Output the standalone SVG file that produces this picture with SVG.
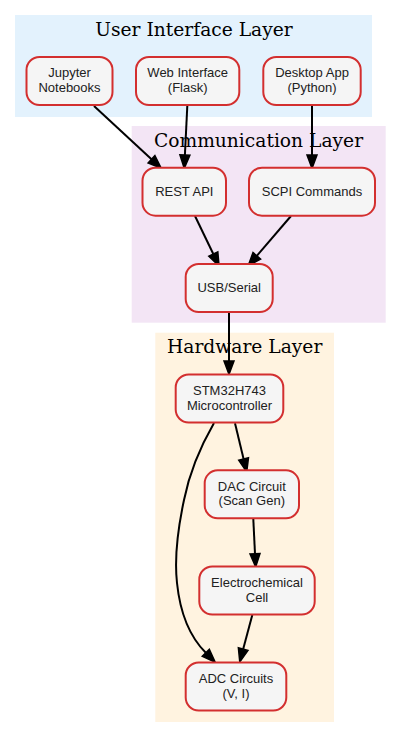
<svg xmlns="http://www.w3.org/2000/svg" width="401" height="737" viewBox="0 0 401 737">
<defs>
<style>
.cl-title{font-family:"DejaVu Serif","Liberation Serif",serif;font-size:18.67px;fill:#000;text-anchor:middle}
.node rect{fill:#f5f5f5;stroke:#d32f2f;stroke-width:2}
.node text{font-family:"Liberation Sans",Arial,sans-serif;font-size:13px;fill:#212121;text-anchor:middle}
.edge{fill:none;stroke:#000;stroke-width:2;marker-end:url(#ah)}
</style>
<marker id="ah" markerUnits="userSpaceOnUse" markerWidth="16" markerHeight="12" refX="0" refY="5" orient="auto" overflow="visible">
<path d="M0,0 L13.3,5 L0,10 z" fill="#000" stroke="#000" stroke-width="1.5" stroke-linejoin="miter"/>
</marker>
</defs>
<rect width="401" height="737" fill="#fff"/>
<g id="clusters">
<g id="cluster_ui">
<rect x="15" y="15" width="357" height="102" fill="#e3f2fd"/>
<text class="cl-title" x="194" y="36">User Interface Layer</text>
</g>
<g id="cluster_comm">
<rect x="131.7" y="126" width="254" height="196.7" fill="#f3e5f5"/>
<text class="cl-title" x="258.5" y="146.7">Communication Layer</text>
</g>
<g id="cluster_hw">
<rect x="155.3" y="332.7" width="178.7" height="389.3" fill="#fff3e0"/>
<text class="cl-title" x="244.7" y="353.3">Hardware Layer</text>
</g>
</g>
<g id="connectors">
<path class="edge" d="M94,106 L151.5,159.2"/>
<path class="edge" d="M187.3,106 L184.9,155"/>
<path class="edge" d="M312,106 L312,155"/>
<path class="edge" d="M195,216 L213.3,254"/>
<path class="edge" d="M291,216 L256.8,255.8"/>
<path class="edge" d="M229,311.7 L229,361"/>
<path class="edge" d="M235,423.3 L243.6,459"/>
<path class="edge" d="M253.3,519 L255,553.7"/>
<path class="edge" d="M252.3,615 L243.2,649.1"/>
<path class="edge" d="M214,423 C199,449 189,475 184,500 C178,528 174,556 177,583 C180,612 190,637 205.8,652.8"/>
</g>
<g id="node_jupyter" class="node">
<rect x="26.5" y="57" width="86" height="48" rx="13"/>
<text x="69.5" y="77.3">Jupyter</text>
<text x="69.5" y="91.8">Notebooks</text>
</g>
<g id="node_web" class="node">
<rect x="136" y="57" width="103.3" height="48" rx="13"/>
<text x="187.7" y="77.3">Web Interface</text>
<text x="187.7" y="91.8">(Flask)</text>
</g>
<g id="node_desktop" class="node">
<rect x="263.3" y="57" width="97.4" height="48" rx="13"/>
<text x="312" y="77.3">Desktop App</text>
<text x="312" y="91.8">(Python)</text>
</g>
<g id="node_rest" class="node">
<rect x="142.5" y="167.7" width="83.5" height="48" rx="13"/>
<text x="184.3" y="195.5">REST API</text>
</g>
<g id="node_scpi" class="node">
<rect x="249" y="167.7" width="126" height="48" rx="13"/>
<text x="312" y="195.5">SCPI Commands</text>
</g>
<g id="node_usb" class="node">
<rect x="185.7" y="264" width="87" height="48" rx="13"/>
<text x="229.2" y="291.8">USB/Serial</text>
</g>
<g id="node_stm" class="node">
<rect x="175.7" y="374.5" width="107.6" height="48" rx="13"/>
<text x="229.5" y="395">STM32H743</text>
<text x="229.5" y="409.5">Microcontroller</text>
</g>
<g id="node_dac" class="node">
<rect x="204.7" y="470.3" width="94.3" height="48" rx="13"/>
<text x="251.8" y="490.8">DAC Circuit</text>
<text x="251.8" y="505.3">(Scan Gen)</text>
</g>
<g id="node_cell" class="node">
<rect x="199.3" y="566.5" width="115.4" height="48" rx="13"/>
<text x="257" y="587">Electrochemical</text>
<text x="257" y="601.5">Cell</text>
</g>
<g id="node_adc" class="node">
<rect x="185.7" y="662.5" width="100.6" height="48" rx="13"/>
<text x="236" y="683">ADC Circuits</text>
<text x="236" y="697.5">(V, I)</text>
</g>
</svg>
